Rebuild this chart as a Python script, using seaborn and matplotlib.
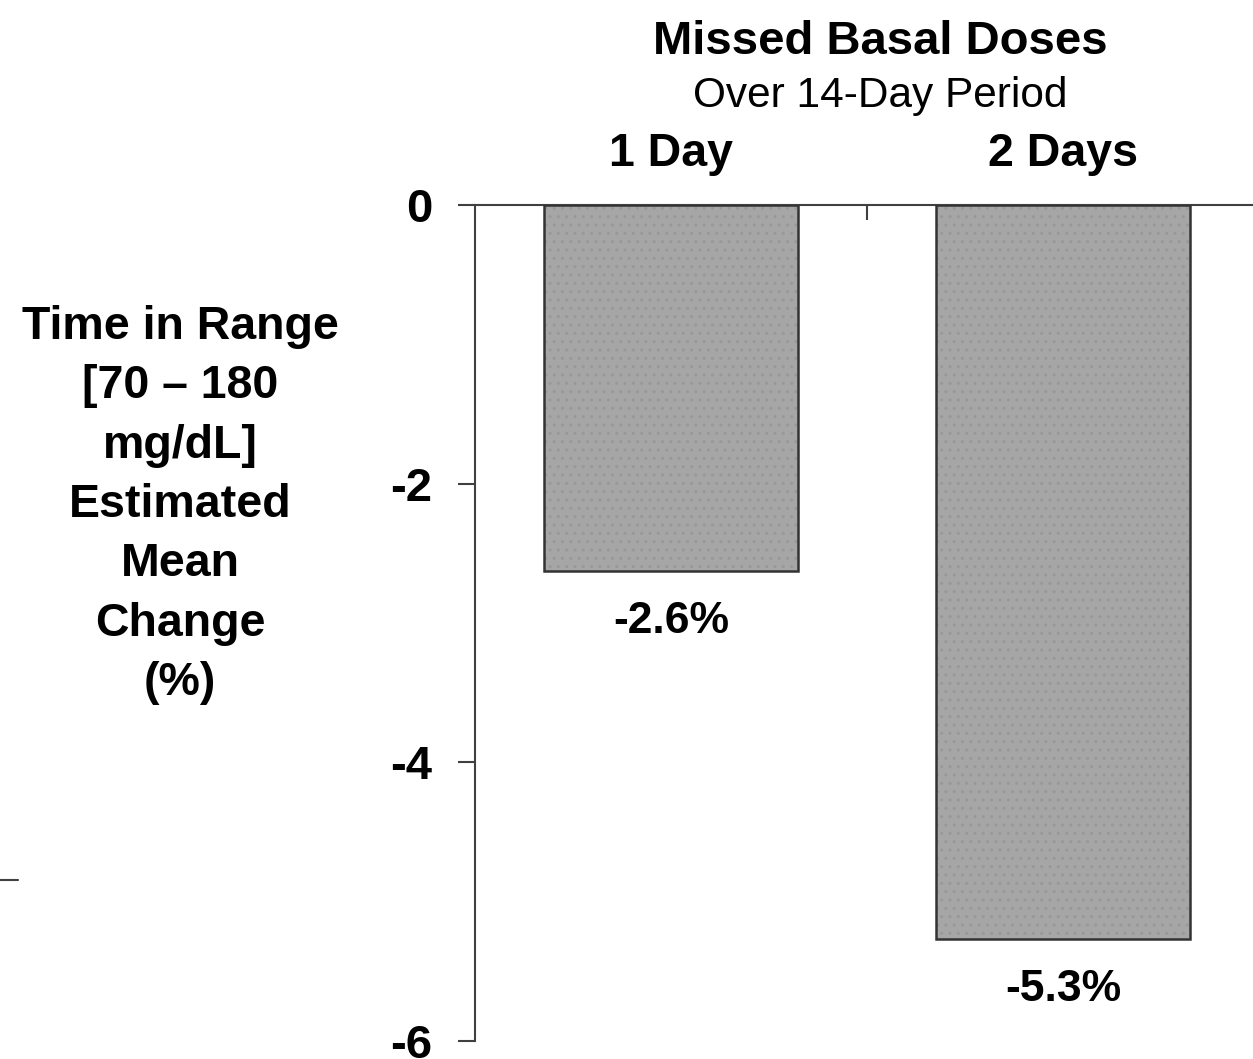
import matplotlib
matplotlib.use("Agg")
import matplotlib.pyplot as plt
import seaborn as sns
import pandas as pd
from matplotlib.lines import Line2D
from matplotlib.patches import Rectangle
from matplotlib.ticker import FixedLocator

categories = ["1 Day", "2 Days"]
values = [-2.63, -5.27]
value_labels = ["-2.6%", "-5.3%"]
y_ticks = [0, -2, -4, -6]
y_tick_labels = ["0", "-2", "-4", "-6"]
title = "Missed Basal Doses"
subtitle = "Over 14-Day Period"
ylabel_lines = ["Time in Range", "[70 \u2013 180", "mg/dL]", "Estimated", "Mean", "Change", "(%)"]

sns.set_theme(style="white")
plt.rcParams['font.family'] = ['Liberation Sans', 'DejaVu Sans']
plt.rcParams['hatch.linewidth'] = 1.0

W, H = 1253, 1059
df = pd.DataFrame({"cat": categories, "val": values})
fig = plt.figure(figsize=(W / 100, H / 100), dpi=100)
ax = fig.add_axes([475 / W, 1 - 1041 / H, (1259 - 475) / W, (1041 - 205) / H])

sns.barplot(data=df, x="cat", y="val", color="#a6a6a6", saturation=1, width=0.65,
            edgecolor="#989898", linewidth=0, hatch="..", ax=ax)
for p in list(ax.patches):
    ax.add_patch(Rectangle(p.get_xy(), p.get_width(), p.get_height(), fill=False,
                           edgecolor="#333333", linewidth=1.8, zorder=3))

ax.set_xlim(-0.5, len(categories) - 0.5)
ax.set_ylim(min(y_ticks), max(y_ticks))
ax.set_xlabel("")
ax.set_ylabel("")

for s in ["right", "bottom"]:
    ax.spines[s].set_visible(False)
for s in ["left", "top"]:
    ax.spines[s].set_color("#404040")
    ax.spines[s].set_linewidth(1.5)

ax.set_yticks(y_ticks)
ax.set_yticklabels(y_tick_labels, fontsize=34, fontweight="bold", color="black")
ax.tick_params(axis="y", left=True, direction="out", length=12.2, width=1.5,
               color="#404040", pad=18.5)

ax.xaxis.set_ticks_position("top")
ax.xaxis.set_label_position("top")
ax.set_xticks(range(len(categories)))
ax.set_xticklabels(categories, fontsize=33.5, fontweight="bold", color="black")
ax.tick_params(axis="x", which="major", top=True, bottom=False, length=0, pad=21)
ax.xaxis.set_minor_locator(FixedLocator([0.5]))
ax.tick_params(axis="x", which="minor", top=True, bottom=False, direction="in",
               length=11, width=1.5, color="#404040")

for i, (v, lab) in enumerate(zip(values, value_labels)):
    ax.annotate(lab, xy=(i, v), xytext=(0, -44.5), textcoords="offset points",
                ha="center", va="baseline", fontsize=32, fontweight="bold", color="black")

fig.text(880 / W, 1 - 54 / H, title, ha="center", va="baseline", fontsize=34,
         fontweight="bold", color="black")
fig.text(880 / W, 1 - 107 / H, subtitle, ha="center", va="baseline", fontsize=30.5,
         color="black")

for i, line in enumerate(ylabel_lines):
    yb = 322 + 17 + i * 59.3
    fig.text(180 / W, 1 - yb / H, line, ha="center", va="baseline", fontsize=33.5,
             fontweight="bold", color="black")

fig.add_artist(Line2D([0, 18 / W], [1 - 880 / H, 1 - 880 / H], color="#404040", lw=1.5))

fig.savefig("out.png", dpi=100)
